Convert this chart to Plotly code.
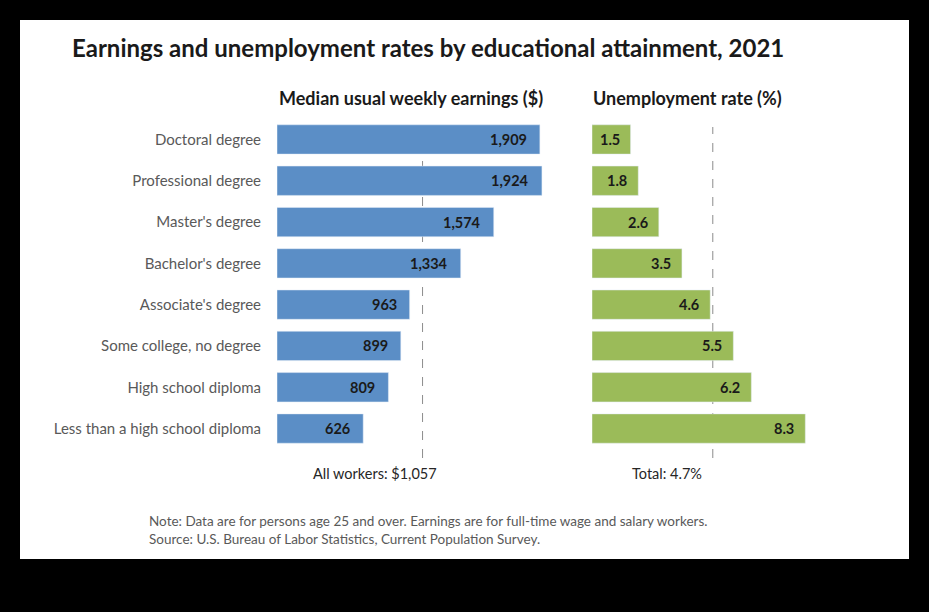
import plotly.graph_objects as go

# data
categories = ["Doctoral degree", "Professional degree", "Master's degree", "Bachelor's degree",
              "Associate's degree", "Some college, no degree", "High school diploma",
              "Less than a high school diploma"]
earnings = [1909, 1924, 1574, 1334, 963, 899, 809, 626]
unemployment = [1.5, 1.8, 2.6, 3.5, 4.6, 5.5, 6.2, 8.3]
all_workers = 1057
total_rate = 4.7

W, H = 929, 612
FONT = "Lato"
BLUE = "#5B8EC6"
GREEN = "#9BBB59"


def px(x):
    return x / W


def py_(y):
    return 1 - y / H


fig = go.Figure()
fig.add_trace(go.Bar(y=categories, x=earnings, orientation="h", marker_color=BLUE,
                     width=0.71, xaxis="x", yaxis="y", hoverinfo="x+y"))
fig.add_trace(go.Bar(y=categories, x=unemployment, orientation="h", marker_color=GREEN,
                     width=0.71, xaxis="x2", yaxis="y2", hoverinfo="x+y"))

annotations = []
# value labels, inside the bar end
for c, v in zip(categories, earnings):
    annotations.append(dict(x=v, y=c, xref="x", yref="y", text="<b>%s</b>" % f"{v:,}",
                            xanchor="right", xshift=-11, showarrow=False,
                            font=dict(family=FONT, size=14.5, color="#1a1a1a")))
for c, v in zip(categories, unemployment):
    annotations.append(dict(x=v, y=c, xref="x2", yref="y2", text="<b>%.1f</b>" % v,
                            xanchor="right", xshift=-9, showarrow=False,
                            font=dict(family=FONT, size=14.5, color="#1a1a1a")))

# titles and notes
annotations += [
    dict(x=px(70), y=py_(48), xref="paper", yref="paper", xanchor="left", yanchor="middle",
         text="<b>Earnings and unemployment rates by educational attainment, 2021</b>",
         showarrow=False, font=dict(family=FONT, size=24, color="#1a1a1a")),
    dict(x=px(411), y=py_(98), xref="paper", yref="paper", xanchor="center", yanchor="middle",
         text="<b>Median usual weekly earnings ($)</b>", showarrow=False,
         font=dict(family=FONT, size=18, color="#1a1a1a")),
    dict(x=px(687), y=py_(98), xref="paper", yref="paper", xanchor="center", yanchor="middle",
         text="<b>Unemployment rate (%)</b>", showarrow=False,
         font=dict(family=FONT, size=18, color="#1a1a1a")),
    dict(x=px(375), y=py_(473), xref="paper", yref="paper", xanchor="center", yanchor="middle",
         text="All workers: $%s" % f"{all_workers:,}", showarrow=False,
         font=dict(family=FONT, size=14.5, color="#262626")),
    dict(x=px(667), y=py_(473), xref="paper", yref="paper", xanchor="center", yanchor="middle",
         text="Total: %.1f%%" % total_rate, showarrow=False,
         font=dict(family=FONT, size=14.5, color="#262626")),
    dict(x=px(147), y=py_(521), xref="paper", yref="paper", xanchor="left", yanchor="middle",
         text="Note: Data are for persons age 25 and over. Earnings are for full-time wage and salary workers.",
         showarrow=False, font=dict(family=FONT, size=13.5, color="#595959")),
    dict(x=px(147), y=py_(539), xref="paper", yref="paper", xanchor="left", yanchor="middle",
         text="Source: U.S. Bureau of Labor Statistics, Current Population Survey.",
         showarrow=False, font=dict(family=FONT, size=13.5, color="#595959")),
]

shapes = [
    # white panel on the black page
    dict(type="rect", xref="paper", yref="paper", x0=px(20), x1=px(909), y0=py_(559), y1=py_(20),
         fillcolor="white", line_width=0, layer="below"),
    # reference lines
    dict(type="line", xref="x", yref="paper", x0=all_workers, x1=all_workers,
         y0=py_(458), y1=py_(127), line=dict(color="#8c8c8c", width=1, dash="dash"), layer="below"),
    dict(type="line", xref="x2", yref="paper", x0=total_rate, x1=total_rate,
         y0=py_(458), y1=py_(127), line=dict(color="#8c8c8c", width=1, dash="dash"), layer="below"),
]

ydom = [py_(449.2), py_(118.8)]
axis_off = dict(showgrid=False, zeroline=False, showticklabels=False, ticks="", showline=False)

fig.update_layout(
    width=W, height=H,
    margin=dict(l=0, r=0, t=0, b=0),
    paper_bgcolor="black", plot_bgcolor="rgba(0,0,0,0)",
    showlegend=False,
    font=dict(family=FONT),
    xaxis=dict(domain=[px(277), px(566)], range=[0, 289 / 0.1377], **axis_off),
    xaxis2=dict(domain=[px(592), px(820)], range=[0, 228 / 25.7], **axis_off),
    yaxis=dict(domain=ydom, anchor="x", categoryorder="array", categoryarray=categories,
               autorange="reversed", showgrid=False, zeroline=False, ticks="",
               ticklabelstandoff=15, tickfont=dict(family=FONT, size=15, color="#595959")),
    yaxis2=dict(domain=ydom, anchor="x2", categoryorder="array", categoryarray=categories,
                autorange="reversed", showgrid=False, zeroline=False, showticklabels=False, ticks=""),
    annotations=annotations,
    shapes=shapes,
)

# drop the default 8px body margin so the figure fills the window
fig.write_html("out.html", config={"displayModeBar": False},
               post_script="document.body.style.margin='0';")
